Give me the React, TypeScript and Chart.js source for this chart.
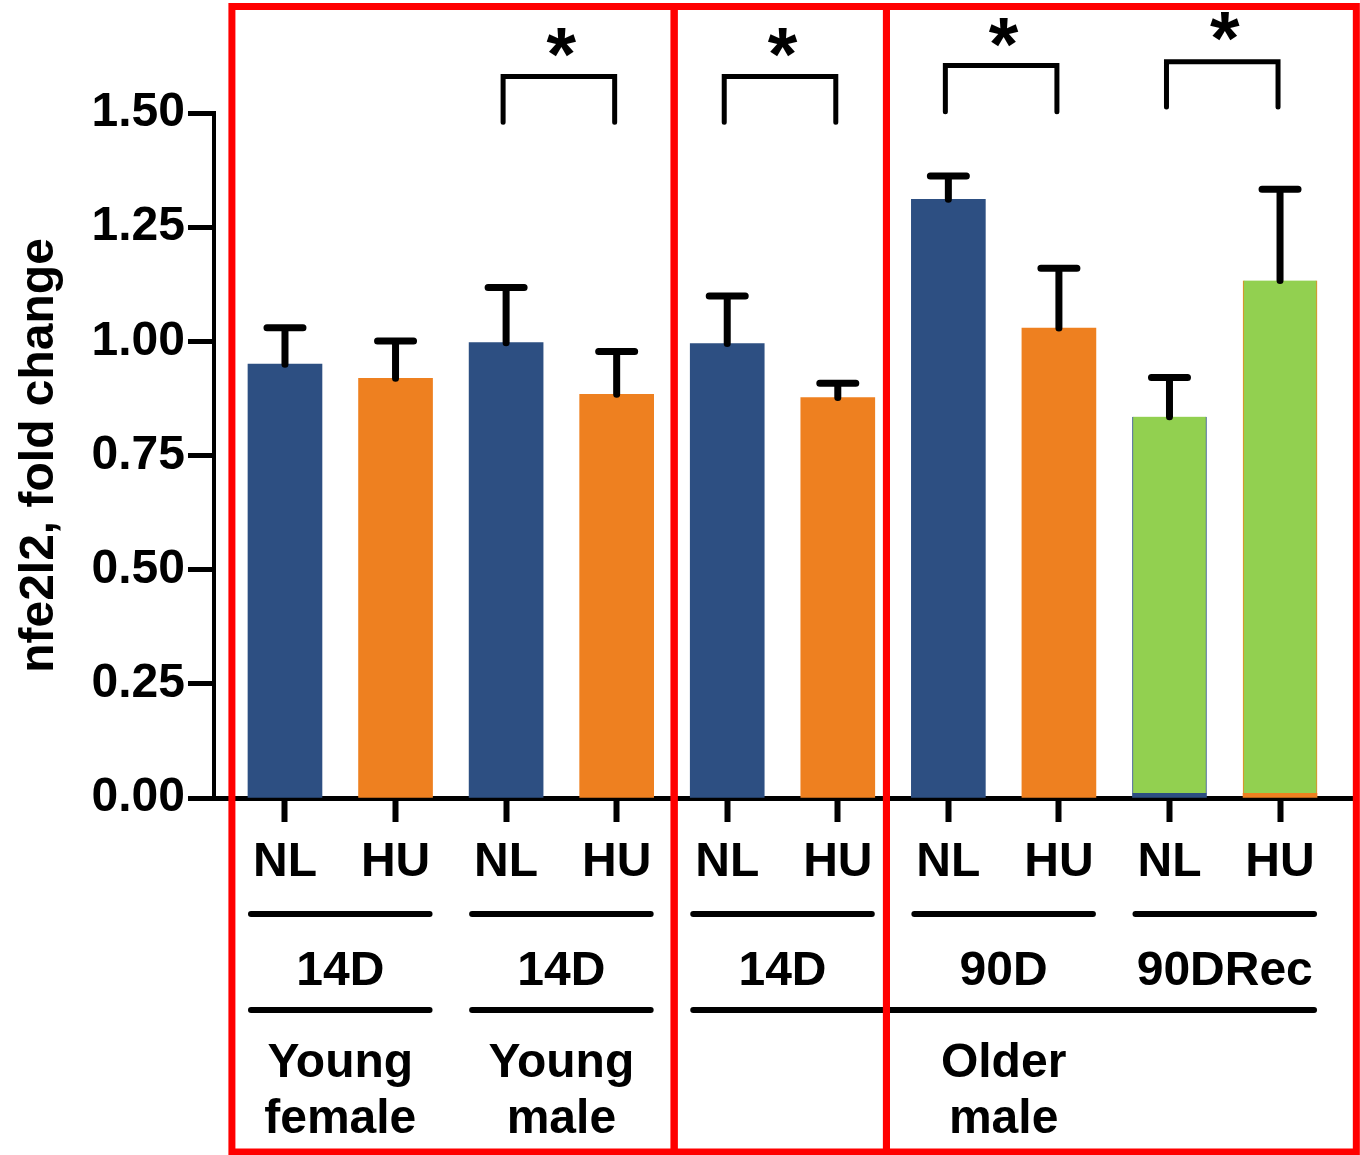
import React, { useEffect, useRef } from 'react';
import { Chart, registerables } from 'chart.js';

Chart.register(...registerables);

// ---- data ----
const categories = ['NL', 'HU', 'NL', 'HU', 'NL', 'HU', 'NL', 'HU', 'NL', 'HU'];
const means = [0.95, 0.919, 0.997, 0.884, 0.995, 0.877, 1.311, 1.029, 0.835, 1.133];
const sems = [0.08, 0.082, 0.121, 0.094, 0.104, 0.031, 0.051, 0.131, 0.086, 0.2];
const recoveryIdx = [8, 9];
const recoveryBase = 0.01;
const yTickValues = [0, 0.25, 0.5, 0.75, 1.0, 1.25, 1.5];

const timeLabels = ['14D', '14D', '14D', '90D', '90DRec'];
const timeSpans = [[0, 1], [2, 3], [4, 5], [6, 7], [8, 9]];
const cohortLabels = [['Young', 'female'], ['Young', 'male'], ['Older', 'male']];
const cohortSpans = [[0, 1], [2, 3], [4, 9]];

const sigPairs = [[2, 3], [4, 5], [6, 7], [8, 9]];
const sigBracketTop = [1.58, 1.58, 1.604, 1.612];
const sigBracketLeg = [1.48, 1.48, 1.503, 1.513];
const sigStarLevel = [1.655, 1.655, 1.677, 1.69];

const panelEdges = [-0.48, 3.52, 5.44, 9.69];

// ---- styles ----
const NAVY = '#2D4F82';
const ORANGE = '#EE8020';
const GREEN = '#92D050';
const FAMILY = '"Liberation Sans", Arial, Helvetica, sans-serif';
const BAR_W = 74;

const annotations = {
  id: 'annotations',
  afterDatasetsDraw(chart: any) {
    const { ctx } = chart;
    const xs = chart.scales.x;
    const ys = chart.scales.y;
    ctx.save();
    ctx.strokeStyle = '#000';
    ctx.lineWidth = 7;
    ctx.lineCap = 'round';
    means.forEach((m, i) => {
      const x = xs.getPixelForValue(i);
      const y1 = ys.getPixelForValue(m);
      const y2 = ys.getPixelForValue(m + sems[i]);
      ctx.beginPath();
      ctx.moveTo(x, y1);
      ctx.lineTo(x, y2);
      ctx.moveTo(x - 18, y2);
      ctx.lineTo(x + 18, y2);
      ctx.stroke();
    });
    ctx.restore();
  },
  afterDraw(chart: any) {
    const { ctx } = chart;
    const xs = chart.scales.x;
    const ys = chart.scales.y;
    const bottom = chart.chartArea.bottom;
    ctx.save();
    ctx.strokeStyle = '#000';
    ctx.fillStyle = '#000';
    ctx.lineCap = 'round';

    // significance brackets
    ctx.lineWidth = 5;
    sigPairs.forEach(([a, b], k) => {
      const xa = xs.getPixelForValue(a) - 3;
      const xb = xs.getPixelForValue(b) - 2;
      const yt = ys.getPixelForValue(sigBracketTop[k]);
      const yl = ys.getPixelForValue(sigBracketLeg[k]);
      ctx.beginPath();
      ctx.lineCap = 'round';
      ctx.lineJoin = 'miter';
      ctx.moveTo(xa, yl);
      ctx.lineTo(xa, yt);
      ctx.lineTo(xb, yt);
      ctx.lineTo(xb, yl);
      ctx.stroke();
      // star
      ctx.font = `bold 76px ${FAMILY}`;
      ctx.textAlign = 'center';
      ctx.textBaseline = 'alphabetic';
      const mt = ctx.measureText('*');
      const asc = mt.actualBoundingBoxAscent;
      const desc = mt.actualBoundingBoxDescent;
      const cy = ys.getPixelForValue(sigStarLevel[k]);
      const baseline = cy - (desc - asc) / 2;
      ctx.fillText('*', (xs.getPixelForValue(a) + xs.getPixelForValue(b)) / 2, baseline);
    });

    // group lines and labels
    ctx.lineWidth = 6;
    ctx.font = `bold 48px ${FAMILY}`;
    ctx.textAlign = 'center';
    ctx.textBaseline = 'alphabetic';
    const line1 = bottom + 116;
    const line2 = bottom + 212;
    timeSpans.forEach(([a, b], k) => {
      const l = xs.getPixelForValue(a) - BAR_W / 2 + 3;
      const r = xs.getPixelForValue(b) + BAR_W / 2 - 3;
      ctx.beginPath();
      ctx.moveTo(l, line1);
      ctx.lineTo(r, line1);
      ctx.stroke();
      ctx.fillText(timeLabels[k], (xs.getPixelForValue(a) + xs.getPixelForValue(b)) / 2, bottom + 187);
    });
    cohortSpans.forEach(([a, b], k) => {
      const l = xs.getPixelForValue(a) - BAR_W / 2 + 3;
      const r = xs.getPixelForValue(b) + BAR_W / 2 - 3;
      ctx.beginPath();
      ctx.moveTo(l, line2);
      ctx.lineTo(r, line2);
      ctx.stroke();
      const cx = (l + r) / 2;
      ctx.fillText(cohortLabels[k][0], cx, bottom + 279);
      ctx.fillText(cohortLabels[k][1], cx, bottom + 335);
    });

    // red panel boxes
    ctx.strokeStyle = '#FF0000';
    ctx.lineWidth = 7;
    ctx.lineCap = 'butt';
    ctx.lineJoin = 'miter';
    for (let k = 0; k < panelEdges.length - 1; k++) {
      const l = xs.getPixelForValue(panelEdges[k]);
      const r = xs.getPixelForValue(panelEdges[k + 1]);
      ctx.strokeRect(l, 6.5, r - l, 1152 - 6.5);
    }
    ctx.restore();
  },
};

export default function App() {
  const ref = useRef<HTMLCanvasElement>(null);
  useEffect(() => {
    const canvas = ref.current;
    if (!canvas) return;
    const font = { family: FAMILY, size: 48, weight: 'bold' as const };
    const mainData = means.map((m, i) => ({ x: i, y: recoveryIdx.includes(i) ? recoveryBase : m }));
    const recData = recoveryIdx.map((i) => ({ x: i, y: [recoveryBase, means[i]] }));
    const chart = new Chart(canvas, {
      type: 'bar',
      data: {
        datasets: [
          {
            label: 'groups',
            data: mainData as any,
            backgroundColor: categories.map((c) => (c === 'NL' ? NAVY : ORANGE)),
            barThickness: BAR_W,
            grouped: false,
            borderWidth: 0,
          } as any,
          {
            label: 'recovery',
            data: recData as any,
            backgroundColor: GREEN,
            borderColor: [NAVY, ORANGE],
            borderWidth: { left: 1, right: 1, top: 0, bottom: 0 },
            borderSkipped: false,
            barThickness: BAR_W,
            grouped: false,
          } as any,
        ],
      },
      options: {
        responsive: false,
        animation: false,
        devicePixelRatio: 1,
        layout: { padding: { top: 113, right: 5, left: 0, bottom: 0 } },
        plugins: { legend: { display: false }, tooltip: { enabled: false } },
        scales: {
          x: {
            type: 'linear',
            offset: false,
            min: -0.642,
            max: 9.678,
            afterBuildTicks: (s: any) => {
              s.ticks = categories.map((_, i) => ({ value: i }));
            },
            afterFit: (s: any) => {
              s.height = 357;
            },
            ticks: {
              callback: (v: any) => categories[Math.round(Number(v))],
              font,
              color: '#000',
              padding: 12,
              autoSkip: false,
              maxRotation: 0,
              minRotation: 0,
            },
            grid: {
              display: true,
              offset: false,
              drawOnChartArea: false,
              drawTicks: true,
              tickLength: 24,
              tickWidth: 6,
              color: '#000',
            },
            border: { display: true, color: '#000', width: 5 },
          },
          y: {
            type: 'linear',
            min: 0,
            max: 1.5,
            afterBuildTicks: (s: any) => {
              s.ticks = yTickValues.map((v) => ({ value: v }));
            },
            afterFit: (s: any) => {
              s.width = 214;
            },
            ticks: {
              callback: (v: any) => Number(v).toFixed(2),
              font,
              color: '#000',
              padding: 3,
            },
            grid: {
              display: true,
              drawOnChartArea: false,
              drawTicks: true,
              tickLength: 26,
              tickWidth: 5,
              color: '#000',
            },
            border: { display: true, color: '#000', width: 4 },
            title: {
              display: true,
              text: 'nfe2l2, fold change',
              font,
              color: '#000',
              padding: { top: 11, bottom: 0 },
            },
          },
        },
      },
      plugins: [annotations],
    });
    return () => chart.destroy();
  }, []);
  return (
    <div style={{ position: 'absolute', left: 0, top: 0, width: 1360, height: 1155, background: '#fff' }}>
      <canvas ref={ref} width={1360} height={1155} style={{ display: 'block' }} />
    </div>
  );
}
